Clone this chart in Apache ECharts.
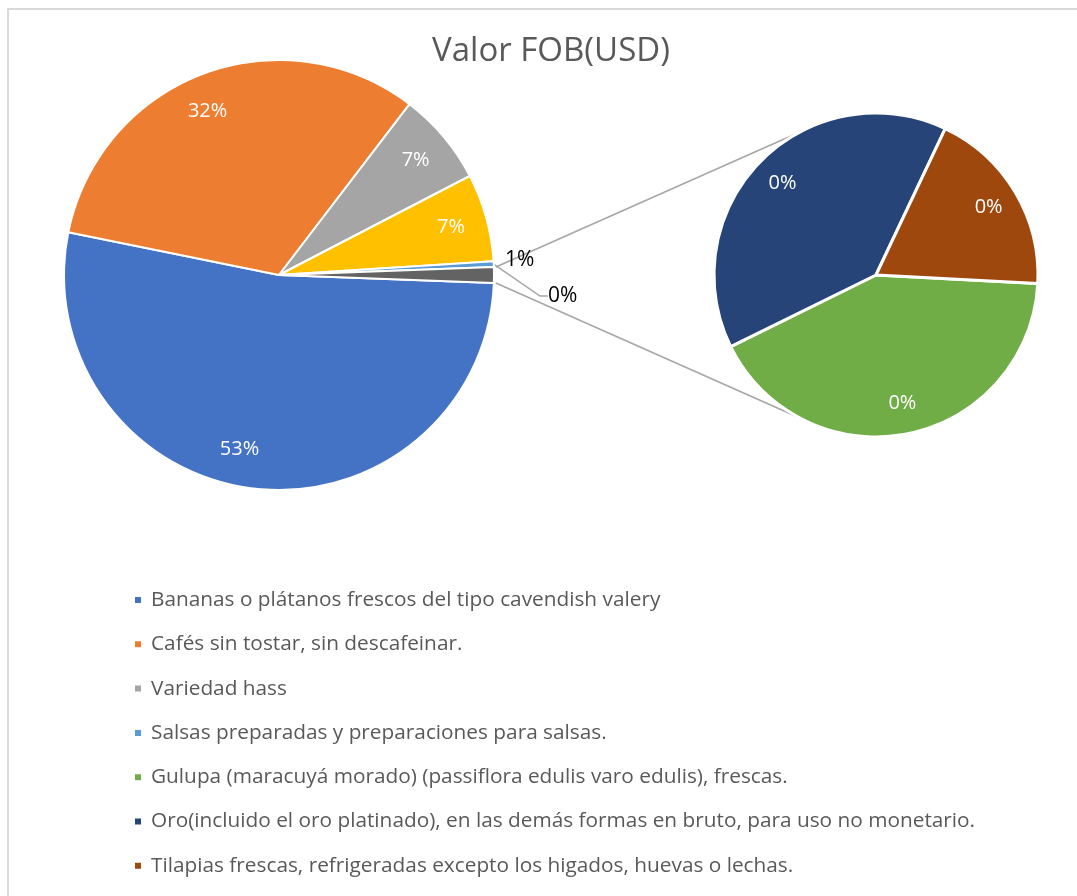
<!DOCTYPE html>
<html>
<head>
<meta charset="utf-8">
<title>Valor FOB(USD)</title>
<script src="https://cdn.jsdelivr.net/npm/echarts@6/dist/echarts.min.js"></script>
<style>
  html, body { margin: 0; padding: 0; background: #fff; }
  #chart { width: 1077px; height: 896px; }
</style>
</head>
<body>
<div id="chart"></div>
<script>
// main pie (share of FOB value, %)
const mainNames = [
  'Bananas o plátanos frescos del tipo cavendish valery',
  'Cafés sin tostar, sin descafeinar.',
  'Variedad hass',
  '(sin nombre)',
  'Salsas preparadas y preparaciones para salsas.'
];
const mainValues = [52.6, 32.2, 7.0, 6.6, 0.43];
const mainColors = ['#4472C4', '#ED7D31', '#A5A5A5', '#FFC000', '#5B9BD5'];

// secondary pie (the "other" slice split out)
const subNames = [
  'Gulupa (maracuyá morado) (passiflora edulis varo edulis), frescas.',
  'Oro(incluido el oro platinado), en las demás formas en bruto, para uso no monetario.',
  'Tilapias frescas, refrigeradas excepto los higados, huevas o lechas.'
];
const subValues = [0.49, 0.46, 0.22];
const subColors = ['#70AD47', '#264478', '#9E480E'];

const otherName = 'Otros';
const otherColor = '#636363';

const legendNames = [
  mainNames[0], mainNames[1], mainNames[2], mainNames[4],
  subNames[0], subNames[1], subNames[2]
];

const FONT = '"Open Sans", sans-serif';

const sum = (arr) => arr.reduce((a, b) => a + b, 0);
const otherValue = sum(subValues);
const total = sum(mainValues) + otherValue;
const pct = (v) => Math.round((v / total) * 100) + '%';

// geometry
const main = { cx: 279, cy: 275, r: 215 };
const sub = { cx: 876, cy: 275, r: 162 };

const mainStart = -(otherValue / total) * 180; // other slice centred at 3 o'clock
const subStart = -3;

const mainData = mainNames
  .map((name, i) => ({ name, value: mainValues[i], itemStyle: { color: mainColors[i] } }))
  .concat([{ name: otherName, value: otherValue, itemStyle: { color: otherColor } }]);

const subData = subNames.map((name, i) => ({
  name,
  value: subValues[i],
  itemStyle: { color: subColors[i] }
}));

// clockwise angle from 12 o'clock (deg) of the middle of slice i
const midAngle = (values, start, i) => {
  const s = sum(values);
  const before = sum(values.slice(0, i));
  return 90 - start + ((before + values[i] / 2) / s) * 360;
};

const polar = (c, rad, deg) => {
  const a = (deg * Math.PI) / 180;
  return [c.cx + rad * Math.sin(a), c.cy - rad * Math.cos(a)];
};

const mainVals = mainData.map((d) => d.value);
// small angular nudges (deg) mimicking Excel's best-fit placement
const mainLabelShift = [6, -3, 0, 0];

const mainLabelLayout = (params) => {
  const i = params.dataIndex;
  if (i < 4) {
    const a = midAngle(mainVals, mainStart, i) + mainLabelShift[i];
    const [x, y] = polar(main, main.r * 0.83, a);
    return { x, y, align: 'center', verticalAlign: 'middle' };
  }
  if (i === 5) {
    return { x: main.cx + main.r + 11, y: main.cy - 15, align: 'left', verticalAlign: 'middle' };
  }
  return { x: main.cx + main.r + 54, y: main.cy + 21, align: 'left', verticalAlign: 'middle' };
};

const subLabelLayout = (params) => {
  const a = midAngle(subValues, subStart, params.dataIndex);
  const [x, y] = polar(sub, sub.r * 0.81, a);
  return { x, y, align: 'center', verticalAlign: 'middle' };
};

// connector lines between the "other" slice and the secondary pie
const halfOther = (otherValue / total) * 180;
const pUp = polar(main, main.r + 2, 90 - halfOther);
const pDown = polar(main, main.r + 2, 90 + halfOther);
const qUp = polar(sub, sub.r, 332);
const qDown = polar(sub, sub.r, 208);

const lineStyle = { stroke: '#A6A6A6', lineWidth: 1.5 };

const chart = echarts.init(document.getElementById('chart'), null, { renderer: 'canvas' });

chart.setOption({
  animation: false,
  backgroundColor: '#fff',
  title: {
    text: 'Valor FOB(USD)',
    left: 546,
    top: 30,
    textAlign: 'center',
    textStyle: { fontFamily: FONT, fontSize: 33, fontWeight: 'normal', color: '#595959' }
  },
  legend: {
    data: legendNames,
    orient: 'vertical',
    left: 128,
    top: 583,
    icon: 'rect',
    itemWidth: 8,
    itemHeight: 8,
    itemGap: 20.3,
    selectedMode: false,
    textStyle: { fontFamily: FONT, fontSize: 20.8, color: '#595959', lineHeight: 24, padding: [0, 0, 0, 4] }
  },
  graphic: [
    {
      type: 'rect',
      silent: true,
      shape: { x: 8, y: 9, width: 1200, height: 1000 },
      style: { fill: 'none', stroke: '#D9D9D9', lineWidth: 2 }
    },
    {
      type: 'line',
      silent: true,
      shape: { x1: pUp[0], y1: pUp[1], x2: qUp[0], y2: qUp[1] },
      style: lineStyle
    },
    {
      type: 'line',
      silent: true,
      shape: { x1: pDown[0], y1: pDown[1], x2: qDown[0], y2: qDown[1] },
      style: lineStyle
    }
  ],
  series: [
    {
      name: 'Valor FOB(USD)',
      type: 'pie',
      center: [main.cx, main.cy],
      radius: [0, main.r],
      startAngle: mainStart,
      clockwise: true,
      avoidLabelOverlap: false,
      itemStyle: { borderColor: '#fff', borderWidth: 2 },
      emphasis: { disabled: true },
      label: {
        show: true,
        position: 'inside',
        fontFamily: FONT,
        fontSize: 20,
        color: '#fff',
        formatter: (p) => pct(p.value)
      },
      labelLine: { show: false },
      labelLayout: mainLabelLayout,
      data: mainData.map((d, i) => {
        if (i === 4) {
          return Object.assign({}, d, {
            label: { position: 'outside', color: '#000', fontSize: 21 },
            labelLine: { show: true, length: 10, length2: 8, lineStyle: { color: '#A6A6A6', width: 1.5 } }
          });
        }
        if (i === 5) {
          return Object.assign({}, d, {
            label: { position: 'outside', color: '#000', fontSize: 21 },
            labelLine: { show: false }
          });
        }
        return d;
      })
    },
    {
      name: otherName,
      type: 'pie',
      center: [sub.cx, sub.cy],
      radius: [0, sub.r],
      startAngle: subStart,
      clockwise: true,
      avoidLabelOverlap: false,
      itemStyle: { borderColor: '#fff', borderWidth: 3 },
      emphasis: { disabled: true },
      label: {
        show: true,
        position: 'inside',
        fontFamily: FONT,
        fontSize: 20,
        color: '#fff',
        formatter: (p) => pct(p.value)
      },
      labelLine: { show: false },
      labelLayout: subLabelLayout,
      data: subData
    }
  ]
});

window.addEventListener('resize', () => chart.resize());
</script>
</body>
</html>
